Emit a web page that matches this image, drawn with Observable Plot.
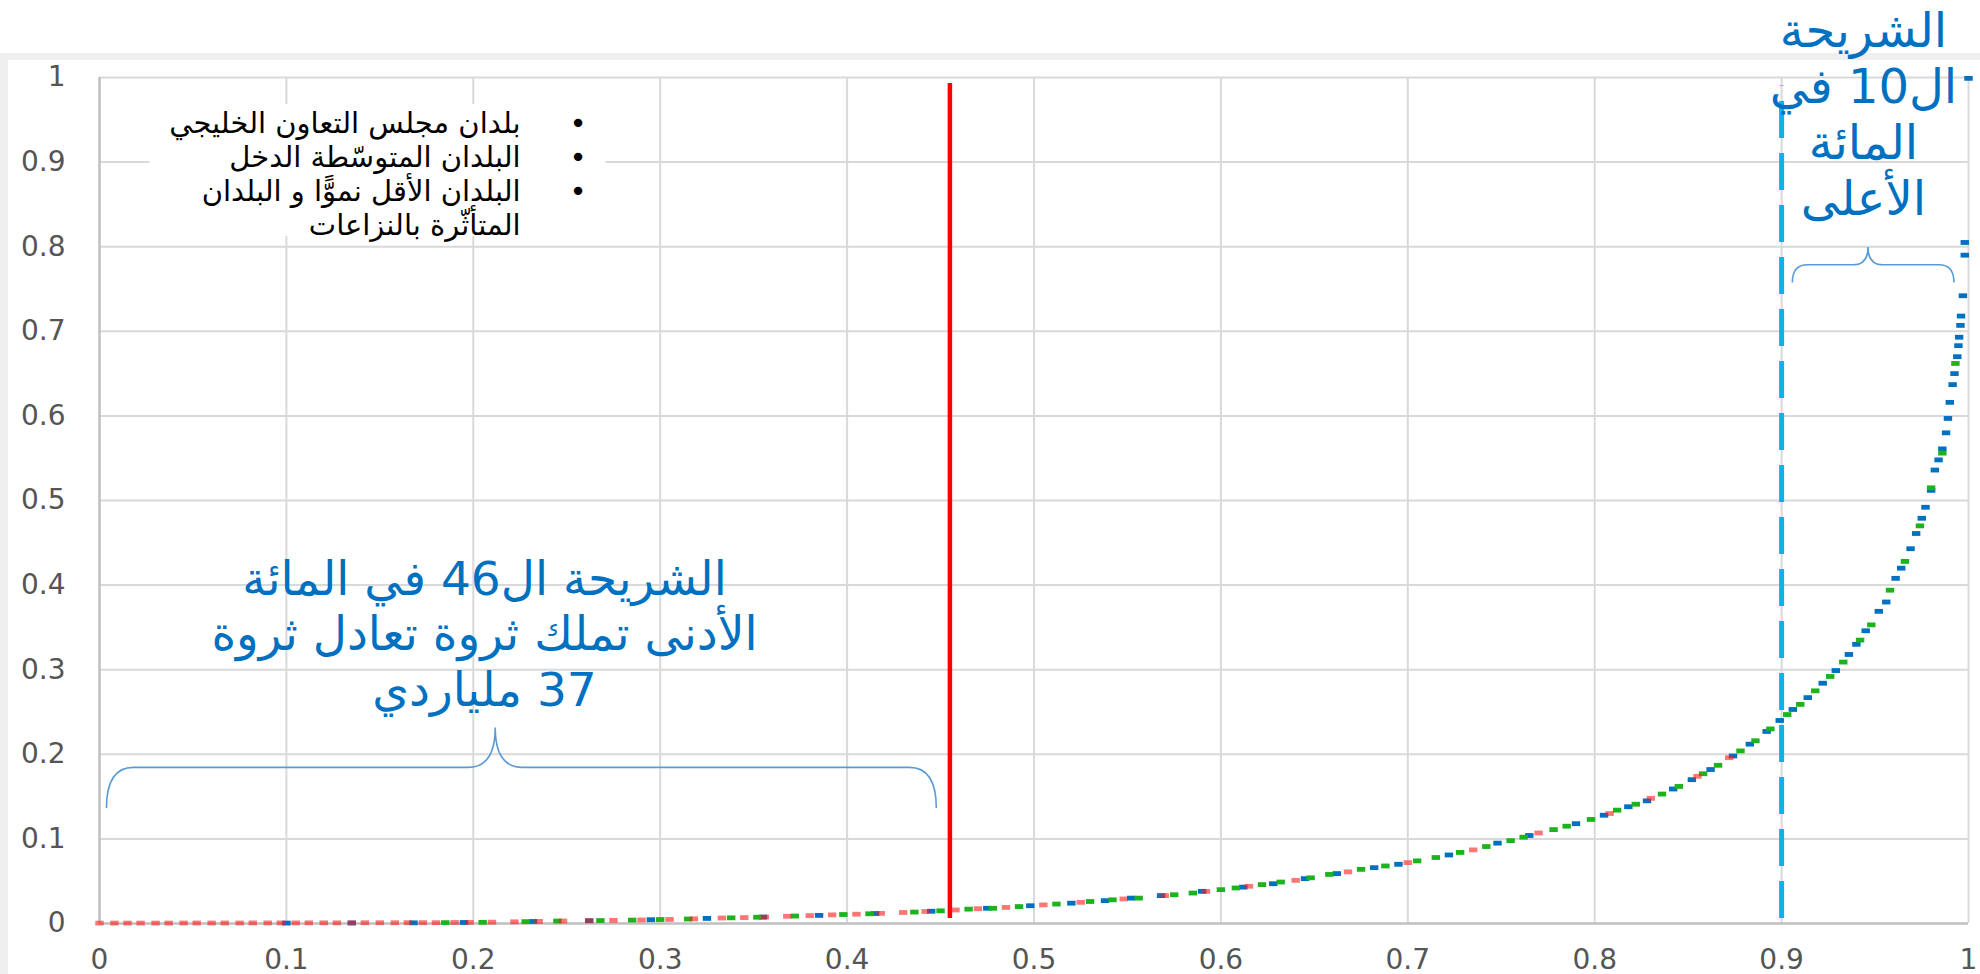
<!DOCTYPE html>
<html><head><meta charset="utf-8">
<script src="https://cdn.jsdelivr.net/npm/d3@7"></script>
<script src="https://cdn.jsdelivr.net/npm/@observablehq/plot@0.6"></script>
<style>
body{margin:0;background:#fff;width:1980px;height:974px;overflow:hidden;position:relative;font-family:"DejaVu Sans";}
#band{position:absolute;left:0;top:53px;width:1980px;height:7px;background:#efefef;}
#strip{position:absolute;left:0;top:53px;width:8px;height:921px;background:#efefef;}
#chart{position:absolute;left:0;top:0;}
</style></head><body>
<div id="band"></div><div id="strip"></div><div id="chart"></div>
<script>
// ---- data ----
const xTicks = [0,0.1,0.2,0.3,0.4,0.5,0.6,0.7,0.8,0.9,1];
const xTickLabels = ["0","0.1","0.2","0.3","0.4","0.5","0.6","0.7","0.8","0.9","1"];
const yTicks = [0,0.1,0.2,0.3,0.4,0.5,0.6,0.7,0.8,0.9,1];
const yTickLabels = ["0","0.1","0.2","0.3","0.4","0.5","0.6","0.7","0.8","0.9","1"];

const groups = ["بلدان مجلس التعاون الخليجي","البلدان المتوسّطة الدخل","البلدان الأقل نموًّا و البلدان المتأثّرة بالنزاعات"];
const legendLines = ["بلدان مجلس التعاون الخليجي","البلدان المتوسّطة الدخل","البلدان الأقل نموًّا و البلدان","المتأثّرة بالنزاعات"];
const legendBullets = ["•","•","•",""];

// least developed & conflict-affected (red)
const redX = [0.000,0.008,0.015,0.022,0.030,0.037,0.045,0.052,0.060,0.067,0.075,0.082,0.090,0.097,0.105,0.112,0.120,0.127,0.135,0.142,0.150,0.158,0.165,0.173,0.180,0.190,0.198,0.210,0.222,0.235,0.248,0.262,0.275,0.290,0.305,0.318,0.333,0.345,0.356,0.368,0.380,0.392,0.405,0.418,0.430,0.442,0.458,0.470,0.485,0.505,0.525,0.548,0.570,0.592,0.615,0.640,0.668,0.700,0.735,0.770,0.808,0.830,0.855,0.872];
const redY = [0.0005,0.0005,0.0005,0.0005,0.0005,0.0005,0.0006,0.0006,0.0006,0.0006,0.0006,0.0007,0.0007,0.0007,0.0007,0.0008,0.0008,0.0008,0.0008,0.0009,0.0009,0.0009,0.001,0.001,0.001,0.0012,0.0013,0.0016,0.002,0.0025,0.003,0.0033,0.0037,0.0042,0.0048,0.0055,0.0065,0.007,0.0076,0.0085,0.0093,0.0102,0.011,0.012,0.013,0.0142,0.016,0.0175,0.019,0.022,0.025,0.029,0.033,0.038,0.044,0.051,0.061,0.072,0.087,0.107,0.130,0.148,0.174,0.196];

// middle income (green)
const greenX = [0.185,0.205,0.228,0.245,0.268,0.285,0.300,0.315,0.338,0.352,0.372,0.398,0.412,0.436,0.450,0.465,0.478,0.492,0.512,0.530,0.542,0.556,0.575,0.585,0.600,0.608,0.622,0.632,0.648,0.658,0.675,0.688,0.705,0.715,0.728,0.742,0.755,0.762,0.778,0.785,0.798,0.812,0.822,0.836,0.845,0.858,0.866,0.878,0.886,0.894,0.903,0.910,0.918,0.926,0.933,0.942,0.948,0.958,0.966,0.974,0.980,0.986,0.993];
const greenY = [0.001,0.0014,0.0022,0.0029,0.0035,0.004,0.0047,0.0053,0.0067,0.0074,0.0088,0.0106,0.0115,0.0135,0.015,0.017,0.018,0.020,0.023,0.026,0.028,0.030,0.034,0.036,0.040,0.042,0.046,0.049,0.054,0.058,0.064,0.068,0.074,0.078,0.084,0.091,0.098,0.102,0.111,0.115,0.123,0.134,0.141,0.153,0.162,0.177,0.187,0.204,0.216,0.230,0.247,0.259,0.275,0.292,0.309,0.335,0.353,0.394,0.428,0.470,0.515,0.556,0.662];

// GCC (blue)
const blueX = [0.100,0.135,0.168,0.195,0.232,0.262,0.295,0.325,0.355,0.385,0.415,0.445,0.475,0.498,0.520,0.538,0.552,0.568,0.590,0.612,0.628,0.645,0.662,0.682,0.695,0.722,0.748,0.765,0.790,0.805,0.818,0.828,0.842,0.852,0.862,0.874,0.883,0.892,0.899,0.906,0.914,0.922,0.929,0.936,0.940,0.945,0.952,0.956,0.961,0.964,0.969,0.972,0.975,0.977,0.980,0.982,0.984,0.986,0.988,0.989,0.990,0.9915,0.9925,0.994,0.9946,0.995,0.9957,0.996,0.997,0.998,0.998,1.000];
const blueY = [0.0005,0.0006,0.0008,0.0012,0.0024,0.0033,0.0045,0.006,0.0076,0.0096,0.0118,0.0145,0.018,0.021,0.024,0.027,0.030,0.033,0.038,0.043,0.047,0.053,0.059,0.066,0.070,0.081,0.095,0.104,0.118,0.128,0.138,0.145,0.159,0.170,0.182,0.198,0.212,0.227,0.240,0.253,0.267,0.284,0.299,0.318,0.330,0.346,0.369,0.380,0.408,0.420,0.443,0.461,0.479,0.492,0.512,0.536,0.548,0.561,0.580,0.597,0.616,0.637,0.650,0.670,0.683,0.693,0.707,0.718,0.742,0.790,0.805,0.999];

// reference lines
const bottom46 = [0.455];
const top10 = [0.9];

// annotations
const leftNote = ["الشريحة ال46 في المائة","الأدنى تملك ثروة تعادل ثروة","37 ملياردي"];
const topNote = ["الشريحة","ال10 في","المائة","الأعلى"];
const braces = [
  {x1:0.004, x2:0.448, xTip:0.212, yEnd:0.136, yLine:0.184, yTip:0.231, r:27},
  {x1:0.906, x2:0.9925, xTip:0.9465, yEnd:0.757, yLine:0.778, yTip:0.799, r:15}
];
const legendBox = [{x1:0.027, x2:0.271, y1:0.812, y2:0.968}];

// ---- build ----
const rtl = s => "\u202B" + s + "\u202C";
const pts = (xs, ys) => xs.map((x, i) => ({x, y: ys[i]}));
const dash = {draw(ctx){ ctx.rect(-4.2, -2.4, 8.4, 4.8); }};

function braceMark(index, scales) {
  const g = d3.create("svg:g").attr("fill", "none").attr("stroke", "#5b9bd5").attr("stroke-width", 1.6);
  for (const b of braces) {
    const x1 = scales.x(b.x1), x2 = scales.x(b.x2), xc = scales.x(b.xTip);
    const ye = scales.y(b.yEnd), yl = scales.y(b.yLine), yt = scales.y(b.yTip);
    const r = b.r;
    const p = `M${x1},${ye} Q${x1},${yl} ${x1+r},${yl} L${xc-r},${yl} Q${xc},${yl} ${xc},${yt} Q${xc},${yl} ${xc+r},${yl} L${x2-r},${yl} Q${x2},${yl} ${x2},${ye}`;
    g.append("path").attr("d", p);
  }
  return g.node();
}

const plot = Plot.plot({
  width: 1980, height: 974,
  marginLeft: 99, marginRight: 12, marginTop: 77, marginBottom: 51,
  style: {fontFamily: "DejaVu Sans", fontSize: "28px", color: "#555555", background: "transparent", overflow: "visible"},
  x: {domain: [0, 1], ticks: xTicks, tickFormat: d => xTickLabels[xTicks.indexOf(d)], tickSize: 0, tickPadding: 26, label: null},
  y: {domain: [0, 1], ticks: yTicks, tickFormat: d => yTickLabels[yTicks.indexOf(d)], tickSize: 0, tickPadding: 34, label: null},
  marks: [
    Plot.ruleY(yTicks.slice(1), {stroke: "#d9d9d9", strokeWidth: 2}),
    Plot.ruleX(xTicks.slice(1), {stroke: "#d9d9d9", strokeWidth: 2}),
    Plot.ruleY([0], {stroke: "#bfbfbf", strokeWidth: 2.5}),
    Plot.ruleX([0], {stroke: "#bfbfbf", strokeWidth: 2.5}),
    Plot.rect(legendBox, {x1: "x1", x2: "x2", y1: "y1", y2: "y2", fill: "white"}),
    Plot.ruleX(bottom46, {y1: 0.006, y2: 0.993, stroke: "#ff0000", strokeWidth: 4.5}),
    Plot.ruleX(top10, {y1: 0.006, y2: 0.99, stroke: "#10b0ee", strokeWidth: 5, strokeDasharray: "37,15"}),
    Plot.dot(pts(blueX, blueY), {x: "x", y: "y", symbol: dash, fill: "#0070c0", r: 3}),
    Plot.dot(pts(greenX, greenY), {x: "x", y: "y", symbol: dash, fill: "#1db31d", r: 3}),
    Plot.dot(pts(redX, redY), {x: "x", y: "y", symbol: dash, fill: "#ff1a1a", fillOpacity: 0.6, r: 3}),
    braceMark,
    Plot.text([{x: 0.2253, y: 0.887, t: legendLines.map(rtl).join("\n")}], {x: "x", y: "y", text: "t", textAnchor: "end", lineAnchor: "middle", lineHeight: 1.17, fontSize: 29, fill: "#000"}),
    Plot.text([{x: 0.256, y: 0.887, t: legendBullets.join("\n")}], {x: "x", y: "y", text: "t", textAnchor: "middle", lineAnchor: "middle", lineHeight: 1.17, fontSize: 29, fill: "#000"}),
    Plot.text([{x: 0.206, y: 0.344, t: leftNote.map(rtl).join("\n")}], {x: "x", y: "y", text: "t", textAnchor: "middle", lineAnchor: "middle", lineHeight: 1.18, fontSize: 47, fill: "#0070c0"}),
    Plot.text([{x: 0.9438, y: 0.958, t: topNote.map(rtl).join("\n")}], {x: "x", y: "y", text: "t", textAnchor: "middle", lineAnchor: "middle", lineHeight: 1.17, fontSize: 48, fill: "#0070c0"})
  ]
});
document.getElementById("chart").appendChild(plot);
</script></body></html>
